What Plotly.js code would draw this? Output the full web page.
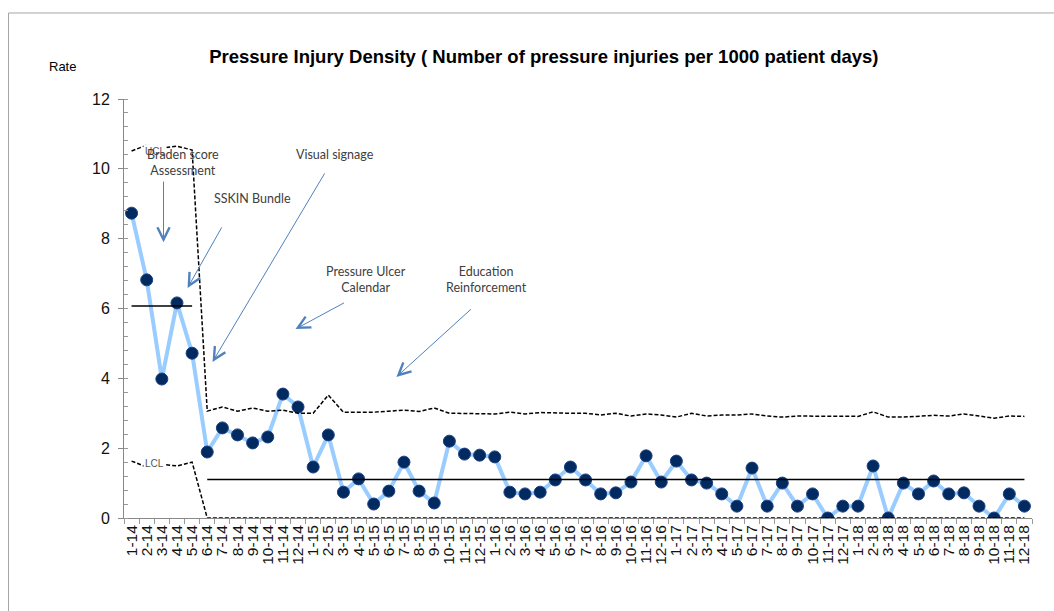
<!DOCTYPE html>
<html>
<head>
<meta charset="utf-8">
<script src="https://cdn.plot.ly/plotly-3.0.1.min.js"></script>
<style>html,body{margin:0;padding:0;background:#fff;}#chart{width:1054px;height:611px;}</style>
</head>
<body>
<div id="chart"></div>
<script>
// Month labels (M-YY)
const months = ["1-14","2-14","3-14","4-14","5-14","6-14","7-14","8-14","9-14","10-14","11-14","12-14",
"1-15","2-15","3-15","4-15","5-15","6-15","7-15","8-15","9-15","10-15","11-15","12-15",
"1-16","2-16","3-16","4-16","5-16","6-16","7-16","8-16","9-16","10-16","11-16","12-16",
"1-17","2-17","3-17","4-17","5-17","6-17","7-17","8-17","9-17","10-17","11-17","12-17",
"1-18","2-18","3-18","4-18","5-18","6-18","7-18","8-18","9-18","10-18","11-18","12-18"];

// Pressure injury rate per 1000 patient days
const rate = [8.73,6.82,3.98,6.16,4.72,1.89,2.58,2.38,2.15,2.32,3.55,3.18,
1.46,2.38,0.74,1.12,0.40,0.77,1.60,0.77,0.43,2.20,1.83,1.80,
1.75,0.74,0.69,0.74,1.09,1.46,1.09,0.69,0.72,1.03,1.78,1.03,
1.63,1.09,1.00,0.69,0.34,1.43,0.34,1.00,0.34,0.69,0.00,0.34,
0.34,1.49,0.00,1.00,0.69,1.06,0.69,0.72,0.34,0.00,0.69,0.34];

// Centre line (two phases)
const cl = [6.07,6.07,6.07,6.07,6.07].concat(new Array(55).fill(1.10));
const cl1 = cl.map((v,i)=> i<5 ? v : null);
const cl2 = cl.map((v,i)=> i>=5 ? v : null);

// Upper control limit
const ucl = [10.51,10.68,10.60,10.65,10.54,3.06,3.18,3.06,3.15,3.06,3.09,3.00,
3.00,3.52,3.03,3.03,3.03,3.06,3.09,3.05,3.15,3.00,3.00,3.00,
2.98,3.03,2.98,3.02,3.00,3.00,3.00,2.95,3.00,2.92,2.98,2.95,
2.89,3.00,2.92,2.95,2.95,2.98,2.92,2.89,2.92,2.92,2.92,2.92,
2.91,3.04,2.89,2.89,2.91,2.94,2.92,2.98,2.92,2.86,2.92,2.91];

// Lower control limit
const lcl = [1.63,1.46,1.54,1.49,1.60].concat(new Array(55).fill(0));

const AR = '"Liberation Sans", Arial, sans-serif';
const darkMarker = '#002a60';
const traces = [
  {x: months, y: rate, type:'scatter', mode:'lines+markers',
   line:{color:'#99ccff', width:4},
   marker:{color:darkMarker, size:12, line:{color:'#1c3f80', width:1}}},
  {x: months, y: ucl, type:'scatter', mode:'lines', line:{color:'#000', width:1.5, dash:'4px,2px'}},
  {x: months, y: lcl, type:'scatter', mode:'lines', line:{color:'#000', width:1.5, dash:'4px,2px'}},
  {x: months, y: cl1, type:'scatter', mode:'lines', line:{color:'#000', width:1.5}},
  {x: months, y: cl2, type:'scatter', mode:'lines', line:{color:'#000', width:1.5}}
];

const noteFont = {family:'Lato, "Open Sans", sans-serif', size:12.5, color:'#404040'};
const arrowColor = '#4f81bd';
function arrow(x, y, ax, ay){
  return {x:x, y:y, xref:'x', yref:'y', ax:ax, ay:ay, text:'', showarrow:true,
    arrowhead:5, arrowsize:2.4, arrowwidth:1, arrowcolor:arrowColor, standoff:0, startstandoff:0};
}
function note(x, y, t){
  return {x:x, y:y, xref:'x', yref:'y', text:t, showarrow:false, font:noteFont, align:'center'};
}

const annotations = [
  {x:1.52, y:10.51, xref:'x', yref:'y', text:'UCL', showarrow:false, bgcolor:'#fff',
   font:{family:AR, size:10, color:'#555'}},
  {x:1.52, y:1.57, xref:'x', yref:'y', text:'LCL', showarrow:false, bgcolor:'#fff',
   font:{family:AR, size:10, color:'#555'}},
  note(3.43, 10.19, 'Braden score<br>Assessment'),
  note(7.99, 9.16, 'SSKIN Bundle'),
  note(13.47, 10.42, 'Visual signage'),
  note(15.52, 6.82, 'Pressure Ulcer<br>Calendar'),
  note(23.45, 6.84, 'Education<br>Reinforcement'),
  arrow(2.11, 7.90, 0, -62),
  arrow(3.70, 6.59, 35, -62),
  arrow(5.35, 4.47, 113, -190),
  arrow(10.83, 5.41, 50, -27),
  arrow(17.5, 4.04, 76, -69),
  {x:-0.0672, y:1.0764, xref:'paper', yref:'paper', xanchor:'center', yanchor:'middle',
   text:'Rate', showarrow:false, font:{family:AR, size:13, color:'#000'}}
];

const layout = {
  width:1054, height:611,
  margin:{l:124, r:22, t:99, b:93},
  paper_bgcolor:'#fff', plot_bgcolor:'#fff',
  showlegend:false,
  title:{text:'<b>Pressure Injury Density ( Number of pressure injuries per 1000 patient days)</b>',
    x:0.516, xref:'container', xanchor:'center', y:0.9067, yref:'container', yanchor:'middle',
    font:{family:AR, size:18.5, color:'#000'}},
  xaxis:{type:'category', range:[-0.5,59.5], tickmode:'linear', tick0:0, dtick:1,
    showgrid:false, zeroline:false,
    showline:true, linecolor:'#888', linewidth:1,
    ticks:'outside', tickson:'boundaries', ticklen:5, tickcolor:'#999',
    tickangle:-90, tickfont:{family:AR, size:15.5, color:'#111'}},
  yaxis:{range:[0,12], dtick:2, showgrid:false, zeroline:false,
    showline:true, linecolor:'#888', linewidth:1,
    ticks:'outside', ticklen:5, tickcolor:'#888', ticklabelstandoff:5,
    minor:{dtick:0.4, ticks:'inside', ticklen:4, tickcolor:'#999'},
    tickfont:{family:AR, size:16, color:'#111'}},
  annotations:annotations,
  shapes:[{type:'rect', xref:'paper', yref:'paper', x0:-0.1272, x1:1.06, y0:-0.4, y1:1.2053,
    line:{color:'#a6a6a6', width:1}, fillcolor:'rgba(0,0,0,0)'}]
};

Plotly.newPlot('chart', traces, layout, {displayModeBar:false, staticPlot:true});
</script>
</body>
</html>
